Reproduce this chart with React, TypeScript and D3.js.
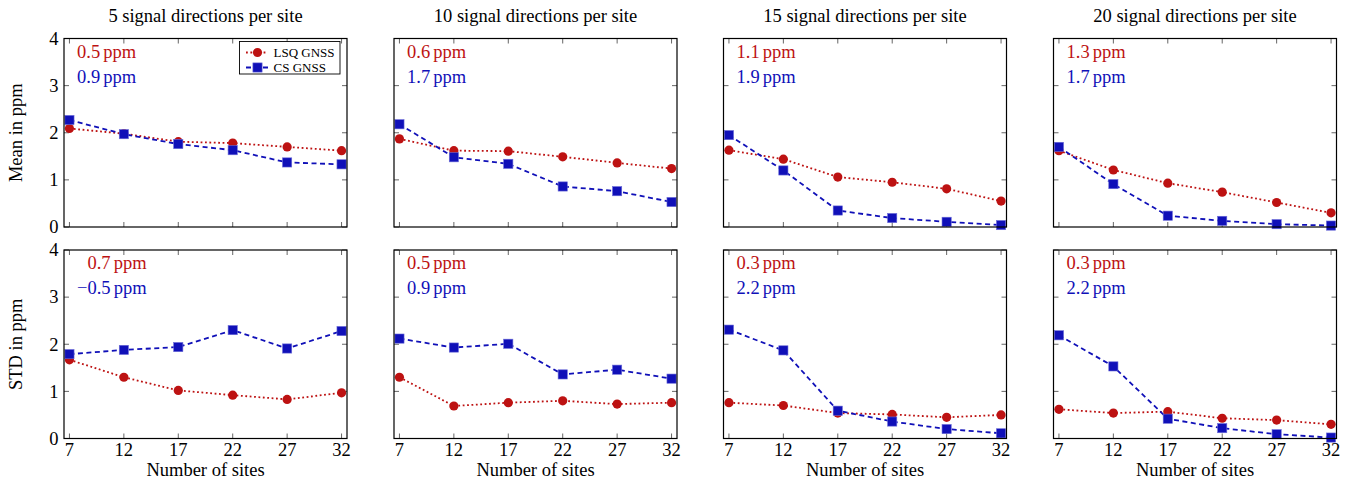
import { useEffect, useRef } from 'react';
import * as d3 from 'd3';

// number of sites on the x axis
const sites = [7, 12, 17, 22, 27, 32];
// signal directions per site, one column of panels each
const directions = [5, 10, 15, 20];

// mean in ppm, one row per panel
const meanLSQ = [
  [2.09, 1.98, 1.81, 1.78, 1.70, 1.62],
  [1.87, 1.62, 1.61, 1.49, 1.36, 1.24],
  [1.63, 1.44, 1.06, 0.95, 0.81, 0.55],
  [1.62, 1.21, 0.93, 0.74, 0.52, 0.30],
];
const meanCS = [
  [2.27, 1.97, 1.76, 1.63, 1.37, 1.33],
  [2.18, 1.48, 1.34, 0.86, 0.76, 0.53],
  [1.95, 1.20, 0.35, 0.19, 0.11, 0.04],
  [1.70, 0.91, 0.24, 0.13, 0.06, 0.03],
];

// std in ppm
const stdLSQ = [
  [1.67, 1.30, 1.02, 0.92, 0.83, 0.97],
  [1.30, 0.69, 0.76, 0.80, 0.73, 0.76],
  [0.76, 0.70, 0.54, 0.51, 0.45, 0.50],
  [0.62, 0.54, 0.57, 0.43, 0.39, 0.30],
];
const stdCS = [
  [1.79, 1.88, 1.94, 2.30, 1.91, 2.28],
  [2.12, 1.93, 2.01, 1.36, 1.46, 1.27],
  [2.31, 1.87, 0.59, 0.36, 0.20, 0.11],
  [2.19, 1.53, 0.42, 0.22, 0.09, 0.02],
];

// annotation labels in the upper left corner of each panel
const meanNoteLSQ = ['0.5', '0.6', '1.1', '1.3'];
const meanNoteCS = ['0.9', '1.7', '1.9', '1.7'];
const stdNoteLSQ = ['0.7', '0.5', '0.3', '0.3'];
const stdNoteCS = ['\u22120.5', '0.9', '2.2', '2.2'];

const yTicks = [0, 1, 2, 3, 4];
const seriesNames = ['LSQ GNSS', 'CS GNSS'];

const RED = '#bd1212';
const BLUE = '#1010b8';
const FONT = '"Liberation Serif", "DejaVu Serif", "Times New Roman", serif';

export default function App() {
  const svgRef = useRef<SVGSVGElement>(null);

  useEffect(() => {
    if (!svgRef.current) return;
    const svg = d3.select(svgRef.current);
    svg.selectAll('*').remove();

    const panelLefts = [64, 394, 723.5, 1053.5];
    const panelW = 283;
    const rowTops = [38.5, 250];
    const panelH = 188.5;

    const rows = [
      { label: 'Mean in ppm', lsq: meanLSQ, cs: meanCS, noteLsq: meanNoteLSQ, noteCs: meanNoteCS },
      { label: 'STD in ppm', lsq: stdLSQ, cs: stdCS, noteLsq: stdNoteLSQ, noteCs: stdNoteCS },
    ];

    rows.forEach((row, r) => {
      const top = rowTops[r];
      const y = d3.scaleLinear().domain([0, 4]).range([top + panelH, top]);

      // y axis label on the left
      svg.append('text')
        .attr('transform', `translate(21.5,${top + panelH / 2}) rotate(-90)`)
        .attr('text-anchor', 'middle')
        .style('font-family', FONT)
        .style('font-size', '18.5px')
        .text(row.label);

      directions.forEach((dir, c) => {
        const left = panelLefts[c];
        const x = d3.scaleLinear().domain([6.5, 32.5]).range([left, left + panelW]);
        const g = svg.append('g');

        if (r === 0) {
          g.append('text')
            .attr('x', left + panelW / 2)
            .attr('y', 21.5)
            .attr('text-anchor', 'middle')
            .style('font-family', FONT)
            .style('font-size', '18.5px')
            .text(`${dir} signal directions per site`);
        }

        // inward ticks on all four sides
        sites.forEach(s => {
          g.append('line').attr('x1', x(s)).attr('x2', x(s))
            .attr('y1', top + panelH).attr('y2', top + panelH - 5)
            .attr('stroke', '#555').attr('stroke-width', 0.9);
          g.append('line').attr('x1', x(s)).attr('x2', x(s))
            .attr('y1', top).attr('y2', top + 5)
            .attr('stroke', '#555').attr('stroke-width', 0.9);
        });
        yTicks.forEach(t => {
          g.append('line').attr('x1', left).attr('x2', left + 5)
            .attr('y1', y(t)).attr('y2', y(t))
            .attr('stroke', '#555').attr('stroke-width', 0.9);
          g.append('line').attr('x1', left + panelW).attr('x2', left + panelW - 5)
            .attr('y1', y(t)).attr('y2', y(t))
            .attr('stroke', '#555').attr('stroke-width', 0.9);
        });

        if (c === 0) {
          yTicks.forEach(t => {
            g.append('text')
              .attr('x', left - 5.5)
              .attr('y', y(t))
              .attr('dy', '0.34em')
              .attr('text-anchor', 'end')
              .style('font-family', FONT)
              .style('font-size', '18.5px')
              .text(t);
          });
        }
        if (r === 1) {
          sites.forEach(s => {
            g.append('text')
              .attr('x', x(s))
              .attr('y', top + panelH + 17.5)
              .attr('text-anchor', 'middle')
              .style('font-family', FONT)
              .style('font-size', '18.5px')
              .text(s);
          });
          g.append('text')
            .attr('x', left + panelW / 2)
            .attr('y', top + panelH + 37.5)
            .attr('text-anchor', 'middle')
            .style('font-family', FONT)
            .style('font-size', '18.5px')
            .text('Number of sites');
        }

        const lsq = row.lsq[c];
        const cs = row.cs[c];
        const line = d3.line<number>().x((_, i) => x(sites[i])).y(d => y(d));

        g.append('path')
          .datum(lsq)
          .attr('fill', 'none')
          .attr('stroke', RED)
          .attr('stroke-width', 1.8)
          .attr('stroke-dasharray', '1.8 2.6')
          .attr('d', line);
        g.selectAll('.dot')
          .data(lsq)
          .enter().append('circle')
          .attr('cx', (_, i) => x(sites[i]))
          .attr('cy', d => y(d))
          .attr('r', 4.6)
          .attr('fill', RED);

        g.append('path')
          .datum(cs)
          .attr('fill', 'none')
          .attr('stroke', BLUE)
          .attr('stroke-width', 1.8)
          .attr('stroke-dasharray', '5 3.5')
          .attr('d', line);
        g.selectAll('.sq')
          .data(cs)
          .enter().append('rect')
          .attr('x', (_, i) => x(sites[i]) - 4.6)
          .attr('y', d => y(d) - 4.6)
          .attr('width', 9.2)
          .attr('height', 9.2)
          .attr('fill', BLUE)
          .attr('stroke', '#6a6ad8')
          .attr('stroke-width', 0.6);

        // panel frame drawn over the marks
        g.append('rect')
          .attr('x', left).attr('y', top)
          .attr('width', panelW).attr('height', panelH)
          .attr('fill', 'none')
          .attr('stroke', '#000')
          .attr('stroke-width', 1.2);

        // annotation, right aligned like a table column; thin gap before "ppm"
        const notes = [
          { value: row.noteLsq[c], color: RED, dy: 19.3 },
          { value: row.noteCs[c], color: BLUE, dy: 44 },
        ];
        const noteEls = notes.map(n => {
          const t = g.append('text')
            .attr('y', top + n.dy)
            .attr('fill', n.color)
            .style('font-family', FONT)
            .style('font-size', '18.5px');
          t.append('tspan').text(n.value);
          t.append('tspan').attr('dx', 3.1).text('ppm');
          return t;
        });
        const widths = noteEls.map(el => (el.node() as SVGTextElement).getComputedTextLength() + 3.1);
        const widest = d3.max(widths) ?? 60;
        noteEls.forEach((el, i) => el.attr('x', left + 13 + widest - widths[i]));

        // legend only in the first panel
        if (r === 0 && c === 0) {
          const lg = g.append('g');
          lg.append('rect')
            .attr('x', 239.5).attr('y', 41.5)
            .attr('width', 100.5).attr('height', 32.5)
            .attr('fill', '#fff')
            .attr('stroke', '#000')
            .attr('stroke-width', 0.9);
          seriesNames.forEach((name, i) => {
            const ly = 52.5 + i * 15;
            lg.append('line')
              .attr('x1', 246).attr('x2', 268)
              .attr('y1', ly).attr('y2', ly)
              .attr('stroke', i === 0 ? RED : BLUE)
              .attr('stroke-width', 1.8)
              .attr('stroke-dasharray', i === 0 ? '1.8 2.6' : '5 3.5');
            if (i === 0) {
              lg.append('circle').attr('cx', 257.5).attr('cy', ly).attr('r', 4.6).attr('fill', RED);
            } else {
              lg.append('rect').attr('x', 257.5 - 4.6).attr('y', ly - 4.6)
                .attr('width', 9.2).attr('height', 9.2)
                .attr('fill', BLUE).attr('stroke', '#6a6ad8').attr('stroke-width', 0.6);
            }
            lg.append('text')
              .attr('x', 273.5)
              .attr('y', ly + 4.5)
              .style('font-family', FONT)
              .style('font-size', '13px')
              .text(name);
          });
        }
      });
    });
  }, []);

  return (
    <svg
      ref={svgRef}
      width={1354}
      height={482}
      style={{ position: 'absolute', left: 0, top: 0, background: '#fff' }}
    />
  );
}
